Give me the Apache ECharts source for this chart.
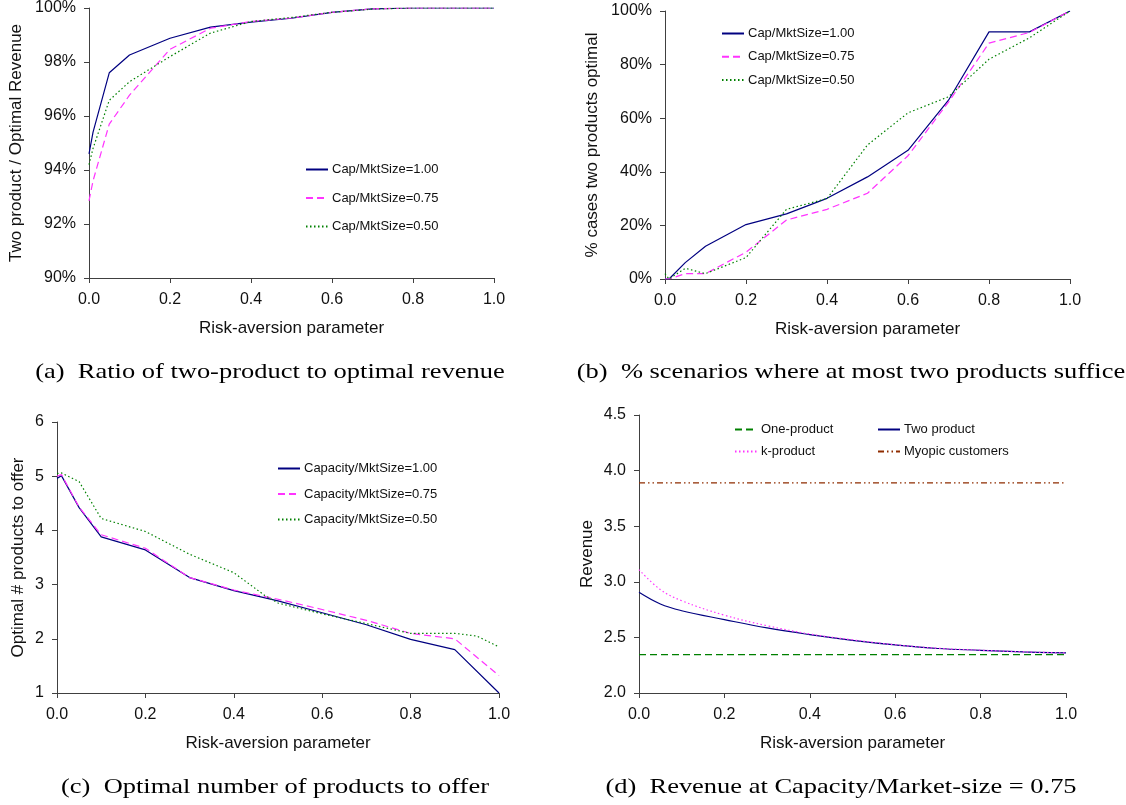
<!DOCTYPE html>
<html>
<head>
<meta charset="utf-8">
<script src="https://cdn.jsdelivr.net/npm/echarts@6/dist/echarts.min.js"></script>
<style>
  html, body { margin: 0; padding: 0; background: #fff; }
  #chart { width: 1126px; height: 805px; }
</style>
</head>
<body>
<div id="chart"></div>
<script>
// risk-aversion values used in panels a, b, c
const risk = [0, 0.01, 0.05, 0.1, 0.2, 0.3, 0.4, 0.5, 0.6, 0.7, 0.8, 0.9, 1.0]
// (a) two-product / optimal revenue, %
const ratio100 = [94.6, 95.4, 97.6, 98.26, 98.88, 99.29, 99.48, 99.62, 99.84, 99.97, 100, 100, 100]
const ratio075 = [92.86, 93.6, 95.7, 96.77, 98.47, 99.25, 99.5, 99.63, 99.84, 99.97, 100, 100, 100]
const ratio050 = [94.2, 94.8, 96.58, 97.27, 98.2, 99.07, 99.5, 99.65, 99.84, 99.96, 100, 100, 100]
// (b) % cases two products optimal
const pct100 = [0, 0, 6.1, 12.2, 20.3, 24.3, 30.1, 38.1, 48, 66.7, 92.2, 92.2, 100]
const pct075 = [0, 0, 2, 2, 10, 22, 26, 32, 46, 66, 88, 92, 100]
const pct050 = [2, 0, 4, 2, 8, 26, 30, 50, 62, 68, 82, 90, 100]
// (c) optimal number of products
const num100 = [4.96, 5.01, 4.42, 3.88, 3.64, 3.13, 2.89, 2.70, 2.48, 2.26, 1.99, 1.80, 1.0]
const num075 = [5.0, 5.03, 4.43, 3.92, 3.67, 3.13, 2.90, 2.73, 2.54, 2.34, 2.10, 2.00, 1.32]
const riskC050 = [0, 0.01, 0.05, 0.1, 0.2, 0.3, 0.4, 0.47, 0.5, 0.6, 0.7, 0.8, 0.9, 0.95, 1.0]
const num050 = [5.05, 5.06, 4.9, 4.22, 3.98, 3.56, 3.22, 2.80, 2.66, 2.46, 2.28, 2.10, 2.10, 2.05, 1.85]
// (d) revenue at capacity/market-size = 0.75
const riskD = [0, 0.05, 0.1, 0.2, 0.3, 0.4, 0.5, 0.6, 0.7, 0.8, 0.9, 1.0]
const revTwo = [2.905, 2.80, 2.74, 2.66, 2.585, 2.525, 2.474, 2.432, 2.40, 2.384, 2.369, 2.36]
const revK = [3.11, 2.93, 2.83, 2.70, 2.605, 2.53, 2.478, 2.434, 2.402, 2.385, 2.37, 2.36]
const revOne = [2.345, 2.345]
const revMyopic = [3.889, 3.889]
const riskEnds = [0, 1]

const captions = [
    '(a)  Ratio of two-product to optimal revenue',
    '(b)  % scenarios where at most two products suffice',
    '(c)  Optimal number of products to offer',
    '(d)  Revenue at Capacity/Market-size = 0.75'
]

const NAVY = '#000080', PINK = '#ff33ff', GREEN = '#008000', BROWN = '#8f2c00'
const SANS = 'Liberation Sans, Arial, sans-serif'
const SERIF = 'Liberation Serif, Times New Roman, serif'
const axisGray = '#404040'

const pairs = (xs, ys) => xs.map((x, i) => [x, ys[i]])

const grids = [
    { left: 89, top: 8, right: 632, bottom: 527 },
    { left: 665, top: 11, right: 56, bottom: 526 },
    { left: 57, top: 422, right: 627, bottom: 112 },
    { left: 639, top: 415, right: 60, bottom: 112 }
]

const xAxis = grids.map((g, i) => ({
    type: 'value', gridIndex: i, min: 0, max: 1, interval: 0.2,
    name: 'Risk-aversion parameter', nameLocation: 'middle', nameGap: 42,
    nameTextStyle: { fontFamily: SANS, fontSize: 17, color: '#111' },
    axisLine: { lineStyle: { color: axisGray, width: 1 } },
    axisTick: { show: true, length: 5, lineStyle: { color: axisGray } },
    axisLabel: { fontFamily: SANS, fontSize: 16, color: '#111', margin: 14, formatter: v => v.toFixed(1) },
    splitLine: { show: false }
}))

const yBase = (i, o) => Object.assign({
    type: 'value', gridIndex: i, nameLocation: 'middle',
    nameTextStyle: { fontFamily: SANS, fontSize: 17, color: '#111' },
    axisLine: { show: true, lineStyle: { color: axisGray, width: 1 } },
    axisTick: { show: true, length: 5, lineStyle: { color: axisGray } },
    axisLabel: { fontFamily: SANS, fontSize: 16, color: '#111', margin: 13 },
    splitLine: { show: false }
}, o)

const yAxis = [
    yBase(0, { min: 90, max: 100, interval: 2, name: 'Two product / Optimal Revenue', nameGap: 64,
        axisLabel: { fontFamily: SANS, fontSize: 16, color: '#111', margin: 13, formatter: '{value}%' } }),
    yBase(1, { min: 0, max: 100, interval: 20, name: '% cases two products optimal', nameGap: 64,
        axisLabel: { fontFamily: SANS, fontSize: 16, color: '#111', margin: 13, formatter: '{value}%' } }),
    yBase(2, { min: 1, max: 6, interval: 1, name: 'Optimal # products to offer', nameGap: 30 }),
    yBase(3, { min: 2, max: 4.5, interval: 0.5, name: 'Revenue', nameGap: 43,
        axisLabel: { fontFamily: SANS, fontSize: 16, color: '#111', margin: 13, formatter: v => v.toFixed(1) } })
]

const line = (name, i, data, color, type, smooth) => ({
    name, type: 'line', xAxisIndex: i, yAxisIndex: i, data,
    symbol: 'none', smooth: smooth || false, animation: false,
    itemStyle: { color, opacity: 0 },
    lineStyle: { color, width: 1.2, type }
})

const DASH = [7, 4], DOT = [1.5, 2.5], DASHDOTDOT = [6, 3, 1.5, 3, 1.5, 3]

const series = [
    line('Cap/MktSize=1.00', 0, pairs(risk, ratio100), NAVY, 'solid'),
    line('Cap/MktSize=0.75', 0, pairs(risk, ratio075), PINK, DASH),
    line('Cap/MktSize=0.50', 0, pairs(risk, ratio050), GREEN, DOT),
    line('Cap/MktSize=1.00', 1, pairs(risk, pct100), NAVY, 'solid'),
    line('Cap/MktSize=0.75', 1, pairs(risk, pct075), PINK, DASH),
    line('Cap/MktSize=0.50', 1, pairs(risk, pct050), GREEN, DOT),
    line('Capacity/MktSize=1.00', 2, pairs(risk, num100), NAVY, 'solid'),
    line('Capacity/MktSize=0.75', 2, pairs(risk, num075), PINK, DASH),
    line('Capacity/MktSize=0.50', 2, pairs(riskC050, num050), GREEN, DOT),
    line('One-product', 3, pairs(riskEnds, revOne), GREEN, DASH),
    line('Two product', 3, pairs(riskD, revTwo), NAVY, 'solid', 0.4),
    line('k-product', 3, pairs(riskD, revK), PINK, DOT, 0.4),
    line('Myopic customers', 3, pairs(riskEnds, revMyopic), BROWN, DASHDOTDOT)
]

const legend = (data, left, top, gap) => ({
    data, left, top, orient: 'vertical', itemGap: gap, itemWidth: 22, itemHeight: 12,
    padding: 0, selectedMode: false,
    itemStyle: { color: 'rgba(0,0,0,0)', borderWidth: 0, opacity: 0 },
    textStyle: { fontFamily: SANS, fontSize: 13, color: '#111', padding: [0, 0, 0, -1] }
})

const legends = [
    legend(['Cap/MktSize=1.00', 'Cap/MktSize=0.75', 'Cap/MktSize=0.50'], 305, 163, 15.5),
    legend(['Cap/MktSize=1.00', 'Cap/MktSize=0.75', 'Cap/MktSize=0.50'], 721, 27, 10.3),
    legend(['Capacity/MktSize=1.00', 'Capacity/MktSize=0.75', 'Capacity/MktSize=0.50'], 277, 462, 12.5),
    legend(['One-product', 'k-product'], 734, 423, 9),
    legend(['Two product', 'Myopic customers'], 877, 423, 9)
]

const capPos = [[270, 372], [851, 372], [275, 787], [841, 787]]
const graphic = captions.map((t, i) => ({
    type: 'text', x: capPos[i][0], y: capPos[i][1], scaleX: 1.26,
    style: { text: t, fontFamily: SERIF, fontSize: 21, fill: '#000', align: 'center', verticalAlign: 'middle' }
}))

const chart = echarts.init(document.getElementById('chart'), null, { renderer: 'canvas' })
chart.setOption({
    backgroundColor: '#fff',
    animation: false,
    grid: grids,
    xAxis,
    yAxis,
    legend: legends,
    series,
    graphic
})
</script>
</body>
</html>
